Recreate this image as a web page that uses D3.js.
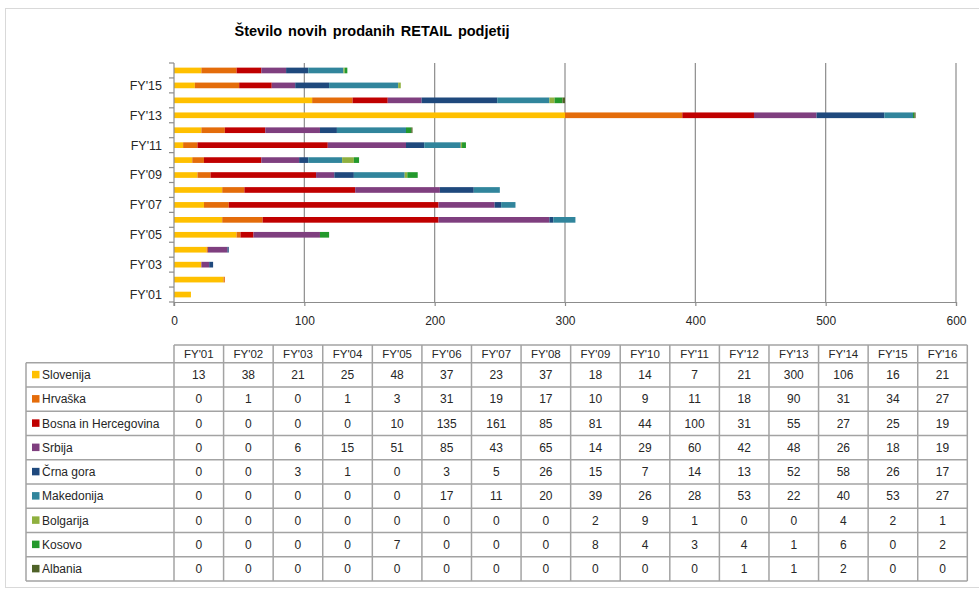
<!DOCTYPE html>
<html>
<head>
<meta charset="utf-8">
<script src="https://cdn.jsdelivr.net/npm/d3@7"></script>
<style>
  html, body { margin: 0; padding: 0; background: #ffffff; }
  svg { display: block; }
  text { font-family: "Liberation Sans", Arial, sans-serif; fill: #262626; }
</style>
</head>
<body>
<script>
// ---------- data ----------
const years = ["FY'01","FY'02","FY'03","FY'04","FY'05","FY'06","FY'07","FY'08","FY'09","FY'10","FY'11","FY'12","FY'13","FY'14","FY'15","FY'16"];
const seriesNames = ["Slovenija","Hrvaška","Bosna in Hercegovina","Srbija","Črna gora","Makedonija","Bolgarija","Kosovo","Albania"];
const slovenija  = [13,38,21,25,48,37,23,37,18,14,7,21,300,106,16,21];
const hrvaska    = [0,1,0,1,3,31,19,17,10,9,11,18,90,31,34,27];
const bosna      = [0,0,0,0,10,135,161,85,81,44,100,31,55,27,25,19];
const srbija     = [0,0,6,15,51,85,43,65,14,29,60,42,48,26,18,19];
const crnaGora   = [0,0,3,1,0,3,5,26,15,7,14,13,52,58,26,17];
const makedonija = [0,0,0,0,0,17,11,20,39,26,28,53,22,40,53,27];
const bolgarija  = [0,0,0,0,0,0,0,0,2,9,1,0,0,4,2,1];
const kosovo     = [0,0,0,0,7,0,0,0,8,4,3,4,1,6,0,2];
const albania    = [0,0,0,0,0,0,0,0,0,0,0,1,1,2,0,0];
const xTicks = [0,100,200,300,400,500,600];
const title = "Število novih prodanih RETAIL podjetij";

const seriesValues = [slovenija,hrvaska,bosna,srbija,crnaGora,makedonija,bolgarija,kosovo,albania];
const colors = ["#FFC000","#E46C0A","#C00000","#7F3F7F","#1F497D","#31859C","#8FB03F","#23992C","#4F6228"];

// ---------- setup ----------
const W = 979, H = 590;
const svg = d3.select("body").append("svg").attr("width", W).attr("height", H);

// outer frame
svg.append("rect").attr("x", 5.5).attr("y", 8.5).attr("width", 1000).attr("height", 579)
  .attr("fill", "none").attr("stroke", "#d9d9d9").attr("stroke-width", 1);

// title
svg.append("text").attr("x", 372).attr("y", 36).attr("text-anchor", "middle")
  .style("font-size", "14.5px").style("font-weight", "bold").style("fill", "#000")
  .style("word-spacing", "2px")
  .text(title);

// ---------- chart ----------
const plot = { left: 174, right: 956, top: 63, bottom: 302 };
const x = d3.scaleLinear().domain([0, 600]).range([plot.left, plot.right]);
const y = d3.scaleBand().domain(years.slice().reverse()).range([plot.top, plot.bottom])
  .paddingInner(0.62).paddingOuter(0.31);

// stacked data
const table = years.map((yr, i) => {
  const row = { year: yr };
  seriesNames.forEach((s, j) => row[s] = seriesValues[j][i]);
  return row;
});
const stacked = d3.stack().keys(seriesNames)(table);

// gridlines
svg.append("g").selectAll("line").data(xTicks.filter(d => d > 0)).join("line")
  .attr("x1", d => x(d)).attr("x2", d => x(d))
  .attr("y1", plot.top).attr("y2", plot.bottom)
  .attr("stroke", "#8c8c8c").attr("stroke-width", 1.2);

// bars
svg.append("g").selectAll("g").data(stacked).join("g")
  .attr("fill", (d, i) => colors[i])
  .selectAll("rect").data(d => d.filter(p => p[1] - p[0] > 0)).join("rect")
  .attr("x", d => x(d[0]))
  .attr("y", d => y(d.data.year))
  .attr("width", d => x(d[1]) - x(d[0]))
  .attr("height", y.bandwidth());

// x axis
const xAxis = svg.append("g").attr("transform", `translate(0,${plot.bottom})`)
  .call(d3.axisBottom(x).tickValues(xTicks).tickSize(4).tickPadding(10).tickFormat(d3.format("d")));
xAxis.select(".domain").attr("stroke", "#8c8c8c").attr("stroke-width", 1.2);
xAxis.selectAll(".tick line").attr("stroke", "#8c8c8c").attr("stroke-width", 1.2);
xAxis.selectAll(".tick text").style("font-size", "12px").style("fill", "#262626")
  .style("font-family", "'Liberation Sans', Arial, sans-serif");

// y axis (line + ticks at category boundaries)
const yAxisG = svg.append("g");
yAxisG.append("line").attr("x1", plot.left).attr("x2", plot.left)
  .attr("y1", plot.top).attr("y2", plot.bottom + 4)
  .attr("stroke", "#8c8c8c").attr("stroke-width", 1.2);
const step = y.step();
const boundaries = d3.range(years.length + 1).map(i => plot.top + i * step);
yAxisG.selectAll("line.tk").data(boundaries).join("line").attr("class", "tk")
  .attr("x1", plot.left - 5).attr("x2", plot.left)
  .attr("y1", d => d).attr("y2", d => d)
  .attr("stroke", "#8c8c8c").attr("stroke-width", 1.2);
yAxisG.selectAll("text").data(years.filter((d, i) => i % 2 === 0)).join("text")
  .attr("x", plot.left - 12)
  .attr("y", d => y(d) + y.bandwidth() / 2)
  .attr("dy", "0.35em").attr("text-anchor", "end")
  .style("font-size", "12.5px")
  .text(d => d);

// ---------- data table ----------
const tbl = { left: 26, labelRight: 174, right: 967.3, headTop: 345, headBottom: 362.7, bottom: 581 };
const col = d3.scaleBand().domain(years).range([tbl.labelRight, tbl.right]);
const row = d3.scaleBand().domain(seriesNames).range([tbl.headBottom, tbl.bottom]);
const tg = svg.append("g");
const lineColor = "#a3a3a3", lw = 1.5;

// header
tg.selectAll("text.hd").data(years).join("text").attr("class", "hd")
  .attr("x", d => col(d) + col.bandwidth() / 2)
  .attr("y", (tbl.headTop + tbl.headBottom) / 2)
  .attr("dy", "0.36em").attr("text-anchor", "middle")
  .style("font-size", "11.5px").text(d => d);

// row labels with colored squares
seriesNames.forEach((s, j) => {
  const cy = row(s) + row.bandwidth() / 2;
  tg.append("rect").attr("x", 32).attr("y", cy - 4).attr("width", 7.5).attr("height", 7.5)
    .attr("fill", colors[j]);
  tg.append("text").attr("x", 42).attr("y", cy).attr("dy", "0.36em")
    .style("font-size", "12px").text(s);
  tg.selectAll(null).data(seriesValues[j]).join("text")
    .attr("x", (d, i) => col(years[i]) + col.bandwidth() / 2)
    .attr("y", cy).attr("dy", "0.36em").attr("text-anchor", "middle")
    .style("font-size", "12px").text(d => d);
});

// grid lines of the table
tg.append("line").attr("x1", tbl.labelRight).attr("x2", tbl.right)
  .attr("y1", tbl.headTop).attr("y2", tbl.headTop);
const hLines = seriesNames.map(s => row(s)).concat([tbl.bottom]);
tg.selectAll("line.h").data(hLines).join("line").attr("class", "h")
  .attr("x1", tbl.left).attr("x2", tbl.right)
  .attr("y1", d => d).attr("y2", d => d);
tg.append("line").attr("x1", tbl.left).attr("x2", tbl.left)
  .attr("y1", tbl.headBottom).attr("y2", tbl.bottom);
const vLines = years.map(d => col(d)).concat([tbl.right]);
tg.selectAll("line.v").data(vLines).join("line").attr("class", "v")
  .attr("x1", d => d).attr("x2", d => d)
  .attr("y1", tbl.headTop).attr("y2", tbl.bottom);
tg.selectAll("line").attr("stroke", lineColor).attr("stroke-width", lw);
</script>
</body>
</html>
